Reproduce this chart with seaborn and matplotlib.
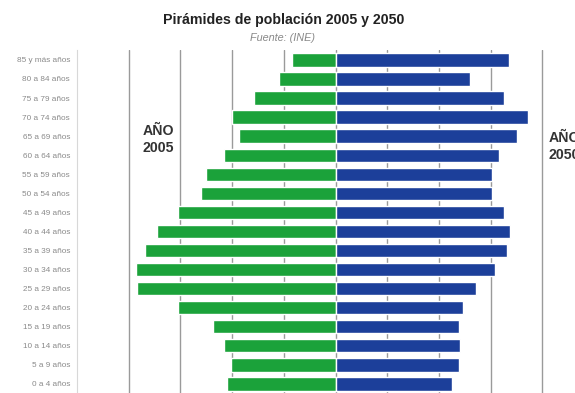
import matplotlib
matplotlib.use("Agg")
import matplotlib.pyplot as plt
import seaborn as sns
import pandas as pd

age_groups = ["85 y más años", "80 a 84 años", "75 a 79 años", "70 a 74 años",
              "65 a 69 años", "60 a 64 años", "55 a 59 años", "50 a 54 años",
              "45 a 49 años", "40 a 44 años", "35 a 39 años", "30 a 34 años",
              "25 a 29 años", "20 a 24 años", "15 a 19 años", "10 a 14 años",
              "5 a 9 años", "0 a 4 años"]
pop_2005 = [0.84, 1.10, 1.58, 2.00, 1.87, 2.16, 2.50, 2.61, 3.04, 3.45,
            3.69, 3.86, 3.84, 3.05, 2.37, 2.16, 2.02, 2.09]
pop_2050 = [3.35, 2.60, 3.26, 3.73, 3.51, 3.16, 3.03, 3.02, 3.26, 3.38,
            3.32, 3.08, 2.71, 2.46, 2.38, 2.40, 2.38, 2.26]

df05 = pd.DataFrame({"edad": age_groups, "valor": [-v for v in pop_2005]})
df50 = pd.DataFrame({"edad": age_groups, "valor": pop_2050})

sns.set_style("white")
plt.rcParams["font.family"] = ["Liberation Sans", "DejaVu Sans"]

W, H = 575, 393
fig = plt.figure(figsize=(W / 100, H / 100), dpi=100)
fig.patch.set_facecolor("white")

left_px, top_px = 77, 50
xmin, xmax = -5, 5
unit_px = 51.7
row_px = 19.06
ylo, yhi = -0.52, 17.52
ax_w = (xmax - xmin) * unit_px
ax_h = (yhi - ylo) * row_px
ax = fig.add_axes([left_px / W, (H - top_px - ax_h) / H, ax_w / W, ax_h / H])

sns.barplot(data=df05, x="valor", y="edad", orient="h", color="#1ba23a",
            saturation=1, width=0.7, ax=ax, zorder=3)
sns.barplot(data=df50, x="valor", y="edad", orient="h", color="#1c3f9a",
            saturation=1, width=0.7, ax=ax, zorder=3)

ax.set_xlim(xmin, xmax)
ax.set_ylim(yhi, ylo)
for xv in range(xmin + 1, xmax):
    ax.axvline(xv, color="#9a9a9a", lw=1.0, zorder=1)

ax.set_xlabel("")
ax.set_ylabel("")
ax.set_xticks([])
ax.tick_params(axis="y", length=0, pad=5, labelsize=5.9, labelcolor="#8a8a8a")
for s in ["top", "right", "bottom"]:
    ax.spines[s].set_visible(False)
ax.spines["left"].set_color("#d8d8d8")
ax.spines["left"].set_linewidth(0.8)

ax.text(-3.42, 4.17, "AÑO\n2005", ha="center", va="center", fontsize=10.2,
        fontweight="bold", color="#333333", linespacing=1.3, zorder=4)
ax.text(4.12, 4.56, "AÑO\n2050", ha="left", va="center", fontsize=10.2,
        fontweight="bold", color="#333333", linespacing=1.3, zorder=4)

fig.text(284 / W, 1 - 20 / H, "Pirámides de población 2005 y 2050",
         ha="center", va="center", fontsize=10.2, fontweight="bold", color="#222222")
fig.text(282 / W, 1 - 38 / H, "Fuente: (INE)", ha="center", va="center",
         fontsize=7.8, style="italic", color="#888888")

fig.savefig("out.png", dpi=100, facecolor="white")
